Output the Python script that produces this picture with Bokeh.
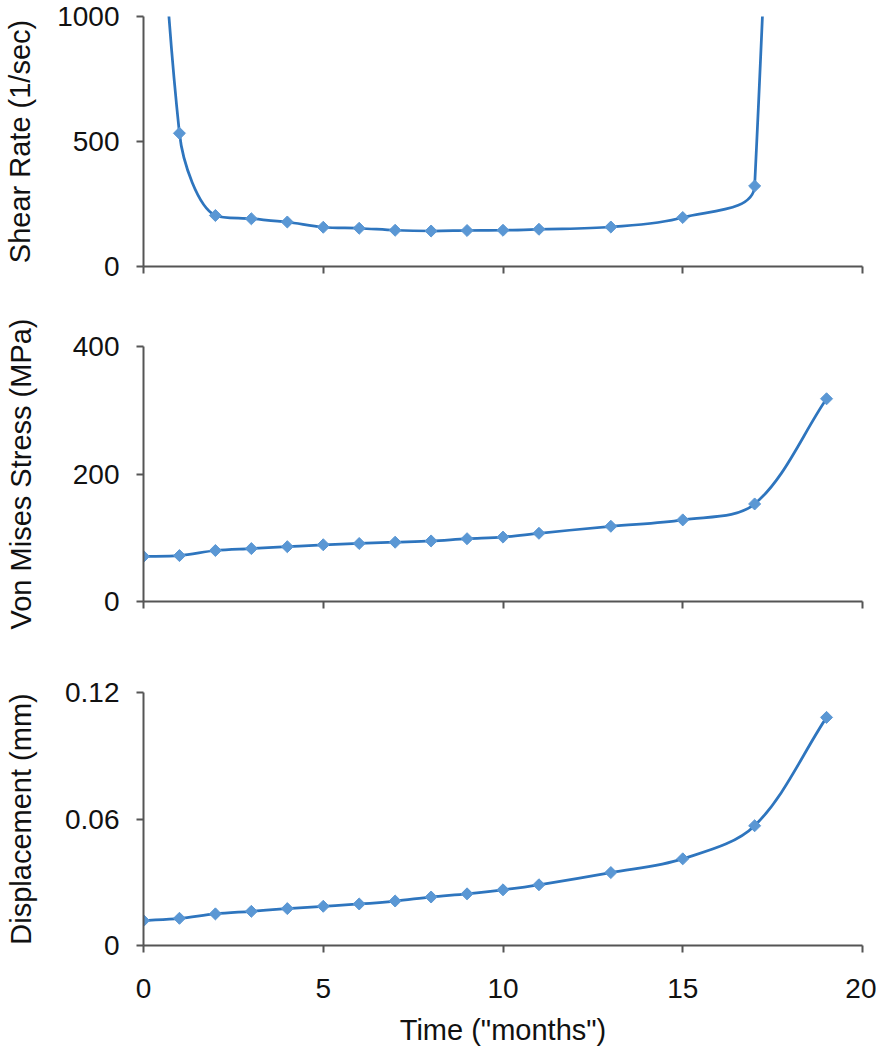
import numpy as np
from bokeh.plotting import figure
from bokeh.layouts import column
from bokeh.models import Range1d, FixedTicker
from bokeh.embed import file_html
from bokeh.resources import INLINE

# ---------------- data ----------------
months = [0, 1, 2, 3, 4, 5, 6, 7, 8, 9, 10, 11, 13, 15, 17, 19]
shear_rate = [2900, 533, 204, 191, 178, 157, 153, 145, 142, 144, 145, 149, 158, 196, 322, 12000]
von_mises = [70.7, 72, 80, 83, 86, 89, 91, 93, 95, 98.5, 101, 107, 118, 128, 153, 318]
displacement = [0.0118, 0.0129, 0.0150, 0.0162, 0.0175, 0.0186, 0.0197, 0.0211,
                0.0230, 0.0245, 0.0264, 0.0288, 0.0346, 0.0411, 0.0568, 0.1082]

x_ticks = [0, 5, 10, 15, 20]
shear_ticks = [0, 500, 1000]
stress_ticks = [0, 200, 400]
disp_ticks = [0, 0.06, 0.12]
disp_tick_labels = ["0", "0.06", "0.12"]

LINE = "#2E75BE"
MARK = "#5A97D4"
AXIS = "#555555"
FONT = "Liberation Sans"
FIG_W = 876
BORDER_L = 143
BORDER_R = 14
FRAME_W = FIG_W - BORDER_L - BORDER_R


def smooth_segments(xs, ys, kx, ky, f=1.0 / 3.0):
    """Smoothed line (Excel-like): cubic Bezier control points computed in pixel space,
    with the vertical part of each tangent limited so it never overshoots a neighbour."""
    X = np.asarray(xs, float) * kx
    Y = np.asarray(ys, float) * ky
    n = len(X)
    d = np.hypot(np.diff(X), np.diff(Y))
    fwd = np.zeros((n, 2))
    bwd = np.zeros((n, 2))
    for i in range(n):
        ip = max(i - 1, 0)
        inx = min(i + 1, n - 1)
        tx, ty = X[inx] - X[ip], Y[inx] - Y[ip]
        dp = d[i - 1] if i > 0 else 0.0
        dn = d[i] if i < n - 1 else 0.0
        tot = dp + dn
        sf = f * dn / tot
        sb = f * dp / tot
        ratio = 1.0
        if i < n - 1:
            dy = Y[i + 1] - Y[i]
            cy = ty * sf
            if dy * cy > 0 and abs(cy) > abs(dy):
                ratio = min(ratio, abs(dy) / abs(cy))
        if i > 0:
            dy = Y[i - 1] - Y[i]
            cy = -ty * sb
            if dy * cy > 0 and abs(cy) > abs(dy):
                ratio = min(ratio, abs(dy) / abs(cy))
        ty *= ratio
        fwd[i] = (tx * sf, ty * sf)
        bwd[i] = (tx * sb, ty * sb)
    seg = dict(x0=[], y0=[], x1=[], y1=[], cx0=[], cy0=[], cx1=[], cy1=[])
    for i in range(n - 1):
        seg["x0"].append(X[i] / kx); seg["y0"].append(Y[i] / ky)
        seg["x1"].append(X[i + 1] / kx); seg["y1"].append(Y[i + 1] / ky)
        seg["cx0"].append((X[i] + fwd[i][0]) / kx); seg["cy0"].append((Y[i] + fwd[i][1]) / ky)
        seg["cx1"].append((X[i + 1] - bwd[i + 1][0]) / kx)
        seg["cy1"].append((Y[i + 1] - bwd[i + 1][1]) / ky)
    return seg


def panel(height, btop, bbot, frame_h, ymax, yticks, ylabel, values,
          title_standoff, show_x=False, overrides=None):
    p = figure(width=FIG_W, height=height, x_range=Range1d(0, 20), y_range=Range1d(0, ymax),
               output_backend="svg", toolbar_location=None,
               min_border_left=BORDER_L, min_border_right=BORDER_R,
               min_border_top=btop, min_border_bottom=bbot)
    p.outline_line_color = None
    p.grid.visible = False
    p.background_fill_color = "white"
    p.border_fill_color = "white"

    for ax in (p.xaxis[0], p.yaxis[0]):
        ax.axis_line_color = AXIS
        ax.axis_line_width = 2
        ax.major_tick_line_color = AXIS
        ax.major_tick_line_width = 2
        ax.major_tick_out = 7
        ax.major_tick_in = 0
        ax.minor_tick_line_color = None
        ax.major_label_text_font = FONT
        ax.major_label_text_font_size = "28px"
        ax.major_label_text_color = "#111111"
        ax.axis_label_text_font = FONT
        ax.axis_label_text_font_size = "29px"
        ax.axis_label_text_font_style = "normal"
        ax.axis_label_text_color = "#111111"

    p.xaxis.ticker = FixedTicker(ticks=x_ticks)
    p.yaxis.ticker = FixedTicker(ticks=yticks)
    p.yaxis.major_label_standoff = 17
    p.yaxis.axis_label = ylabel
    p.yaxis.axis_label_standoff = title_standoff
    if overrides:
        p.yaxis.major_label_overrides = overrides

    if show_x:
        p.xaxis.major_label_standoff = 26
        p.xaxis.axis_label = 'Time ("months")'
        p.xaxis.axis_label_standoff = 13
    else:
        p.xaxis.major_label_text_color = None
        p.xaxis.major_label_text_font_size = "10px"
        p.xaxis.major_label_standoff = 0

    kx = FRAME_W / 20.0
    ky = frame_h / ymax
    seg = smooth_segments(months, values, kx, ky)
    p.bezier(x0="x0", y0="y0", x1="x1", y1="y1", cx0="cx0", cy0="cy0", cx1="cx1", cy1="cy1",
             source=seg, line_color=LINE, line_width=2.75)
    p.scatter(months, values, marker="square", angle=np.pi / 4, size=8.5,
              fill_color=MARK, line_color=MARK, line_width=1)
    return p


p1 = panel(310, 16, 44, 250, 1000, shear_ticks, "Shear Rate (1/sec)", shear_rate, 18)
p2 = panel(362, 36, 71, 255, 400, stress_ticks, "Von Mises Stress (MPa)", von_mises, 33)
p3 = panel(376, 20, 102, 254, 0.12, disp_ticks, "Displacement (mm)", displacement, 25,
           show_x=True, overrides={t: s for t, s in zip(disp_ticks, disp_tick_labels)})

layout = column(p1, p2, p3, spacing=0)
open("out.html", "w").write(file_html(layout, INLINE))
